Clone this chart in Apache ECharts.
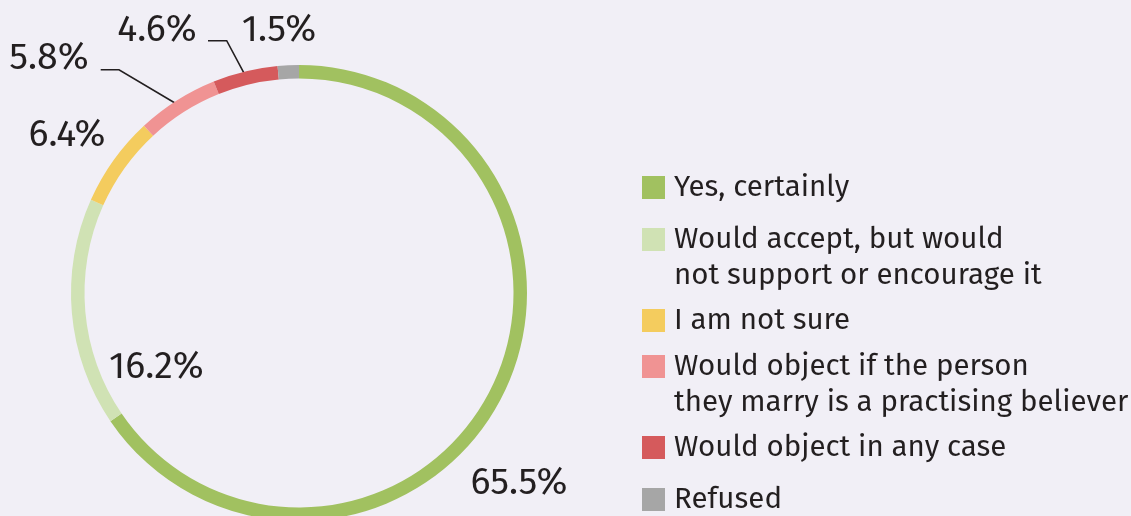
<!DOCTYPE html>
<html>
<head>
<meta charset="utf-8">
<script src="https://cdn.jsdelivr.net/npm/echarts@6/dist/echarts.min.js"></script>
<style>
html,body{margin:0;padding:0;background:#f1eff6;}
#chart{width:1131px;height:516px;}
</style>
</head>
<body>
<div id="chart"></div>
<script>
const categories = [
  'Yes, certainly',
  'Would accept, but would\nnot support or encourage it',
  'I am not sure',
  'Would object if the person\nthey marry is a practising believer',
  'Would object in any case',
  'Refused'
];
const shares = [65.5, 16.2, 6.4, 5.8, 4.6, 1.5];
const colors = ['#a1c160', '#d0e2b4', '#f4cc5e', '#f09393', '#d55a5c', '#a6a6a6'];

// layout (positions only)
const CX = 299, CY = 293, R_OUT = 228, R_IN = 214.5;
const labelAnchor = [[519, 484], [156.3, 368], [67, 136], [49, 59], [157, 31], [279, 31]];
const lineTail = { 3: [[119, 69.7], [100.7, 69.7]], 4: [[226.7, 40.7], [208, 40.7]] };
const legendIconTop = [176, 228, 309, 355, 436, 488];

const total = shares.reduce((a, b) => a + b, 0);
function midPoint(i) {
  let before = 0;
  for (let k = 0; k < i; k++) before += shares[k];
  const frac = (before + shares[i] / 2) / total;
  const ang = frac * 2 * Math.PI; // clockwise from top
  const r = (R_OUT + R_IN) / 2;
  return [CX + r * Math.sin(ang), CY - r * Math.cos(ang)];
}

const FONT = '"Fira Sans", "Open Sans", "Noto Sans", sans-serif';
const LH = 36;
const TEXT_DROP = 5;

const legends = categories.map((name, i) => {
  const lines = name.split('\n').length;
  const nLines = lines > 1 ? lines + 1 : 1; // leading blank line keeps first line level with the icon
  const boxH = nLines * LH + TEXT_DROP;
  const top = legendIconTop[i] + 11.5 - boxH / 2;
  return {
    data: [name],
    orient: 'vertical',
    left: 642,
    top: top,
    padding: 0,
    itemWidth: 23,
    itemHeight: 23,
    icon: 'rect',
    selectedMode: false,
    formatter: n => (lines > 1 ? '\n' + n : n),
    textStyle: {
      fontFamily: FONT,
      fontSize: 29.5,
      lineHeight: LH,
      color: '#231f20',
      padding: [TEXT_DROP, 0, 0, 4]
    }
  };
});

const chart = echarts.init(document.getElementById('chart'), null, { renderer: 'canvas' });
chart.setOption({
  backgroundColor: '#f1eff6',
  animation: false,
  color: colors,
  legend: legends,
  series: [{
    type: 'pie',
    center: [CX, CY],
    radius: [R_IN, R_OUT],
    startAngle: 90,
    clockwise: true,
    avoidLabelOverlap: false,
    silent: true,
    itemStyle: { borderWidth: 0 },
    label: {
      show: true,
      position: 'outside',
      formatter: p => p.value.toFixed(1) + '%',
      fontFamily: FONT,
      fontSize: 37.5,
      fontWeight: 'normal',
      color: '#231f20'
    },
    labelLine: { show: false, lineStyle: { color: '#231f20', width: 1.6 } },
    labelLayout: function (params) {
      const i = params.dataIndex;
      const res = {
        x: labelAnchor[i][0],
        y: labelAnchor[i][1],
        align: 'center',
        verticalAlign: 'middle'
      };
      if (lineTail[i]) {
        res.labelLinePoints = [midPoint(i), lineTail[i][0], lineTail[i][1]];
      }
      return res;
    },
    data: categories.map((name, i) => ({
      name: name,
      value: shares[i],
      labelLine: { show: !!lineTail[i] }
    }))
  }]
});
</script>
</body>
</html>
